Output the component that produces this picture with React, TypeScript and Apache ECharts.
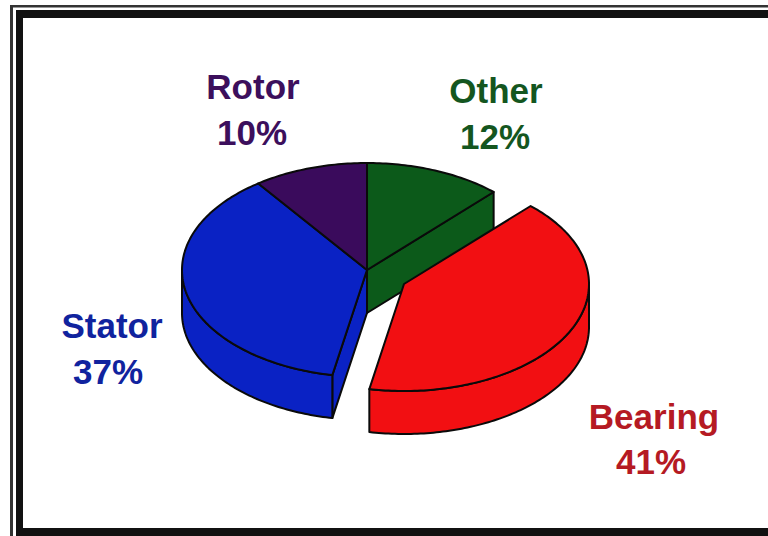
import React, { useEffect, useRef } from "react";
import * as echarts from "echarts";

// Failure causes, clockwise from twelve o'clock
const causes = ["Other", "Bearing", "Stator", "Rotor"];
const shares = [12, 41, 37, 10];
const explodedCause = "Bearing";

const sliceColors = ["#0c5a1a", "#f20f12", "#0a22c4", "#3a0b5c"];
const labelColors = ["#14561f", "#b51a23", "#10239e", "#3c0f5c"];

// Pie projection, in pixels
const CX = 367;
const CY = 270;
const RX = 185;
const RY = 107;
const DEPTH = 43;
const EXPLODE_DX = 37;
const EXPLODE_DY = 14;

const total = shares.reduce((a, b) => a + b, 0);

function rimPoint(cx: number, cy: number, deg: number, drop = 0): number[] {
  const r = (deg * Math.PI) / 180;
  return [cx + RX * Math.sin(r), cy - RY * Math.cos(r) + drop];
}

function arcPoints(cx: number, cy: number, from: number, to: number, drop = 0): number[][] {
  const pts: number[][] = [];
  const steps = Math.max(2, Math.ceil(to - from));
  for (let i = 0; i <= steps; i++) {
    pts.push(rimPoint(cx, cy, from + ((to - from) * i) / steps, drop));
  }
  return pts;
}

function renderSlice(params: any, api: any) {
  const i = params.dataIndex;
  const before = shares.slice(0, i).reduce((a, b) => a + b, 0);
  const start = (before / total) * 360;
  const end = start + ((api.value(0) as number) / total) * 360;
  const n = shares.length;
  const exploded = causes[i] === explodedCause;
  const cx = CX + (exploded ? EXPLODE_DX : 0);
  const cy = CY + (exploded ? EXPLODE_DY : 0);
  const style = { fill: sliceColors[i], stroke: "#0a0a0a", lineWidth: 2, lineJoin: "round" };
  const face = (points: number[][]) => ({ type: "polygon", shape: { points }, style });
  const children: any[] = [];

  const wall = (deg: number) => {
    const p = rimPoint(cx, cy, deg);
    const q = rimPoint(cx, cy, deg, DEPTH);
    children.push(face([[cx, cy], p, q, [cx, cy + DEPTH]]));
  };
  const rad = (d: number) => (d * Math.PI) / 180;
  // A cut wall only shows when it faces the viewer and a gap opens in front of it
  if (-Math.sin(rad(start)) > 1e-6 && (exploded || causes[(i + n - 1) % n] === explodedCause)) wall(start);
  if (Math.sin(rad(end)) > 1e-6 && (exploded || causes[(i + 1) % n] === explodedCause)) wall(end);

  // Outer rim, front half of the ellipse only
  const rimFrom = Math.max(start, 90);
  const rimTo = Math.min(end, 270);
  if (rimTo > rimFrom) {
    children.push(
      face([...arcPoints(cx, cy, rimFrom, rimTo), ...arcPoints(cx, cy, rimFrom, rimTo, DEPTH).reverse()])
    );
  }

  children.push(face([[cx, cy], ...arcPoints(cx, cy, start, end)]));
  return { type: "group", children };
}

function caption(name: string, x: number, y: number, fill: string) {
  return {
    type: "text",
    x,
    y,
    style: {
      text: name,
      fill,
      font: 'bold 35px "Liberation Sans", Arial, sans-serif',
      textAlign: "center",
      textVerticalAlign: "middle",
    },
  };
}

function frame(x: number, y: number, width: number, height: number, fill = "#111111") {
  return { type: "rect", shape: { x, y, width, height }, style: { fill } };
}

export default function App() {
  const ref = useRef<HTMLDivElement>(null);

  useEffect(() => {
    document.body.style.margin = "0";
    const chart = echarts.init(ref.current!, undefined, { renderer: "svg" });
    const at: Record<string, number[][]> = {
      Other: [[496, 90], [495, 136]],
      Bearing: [[654, 416], [651, 461]],
      Stator: [[112, 325], [108, 371]],
      Rotor: [[253, 86], [252, 132]],
    };
    const captions = causes.flatMap((c, i) => [
      caption(c, at[c][0][0], at[c][0][1], labelColors[i]),
      caption(`${shares[i]}%`, at[c][1][0], at[c][1][1], labelColors[i]),
    ]);
    chart.setOption({
      animation: false,
      backgroundColor: "#ffffff",
      series: [
        {
          type: "custom",
          coordinateSystem: "none",
          silent: true,
          renderItem: renderSlice,
          data: shares.map((v) => [v]),
        },
      ],
      graphic: [
        // Double-ruled border around the plate
        frame(10, 5, 758, 2.5, "#333333"),
        frame(10, 5, 3, 531, "#333333"),
        frame(16, 10, 752, 8),
        frame(16, 10, 7, 526),
        frame(16, 528, 752, 8),
        ...captions,
      ],
    });
    return () => chart.dispose();
  }, []);

  return <div ref={ref} style={{ position: "absolute", left: 0, top: 0, width: 768, height: 536 }} />;
}
